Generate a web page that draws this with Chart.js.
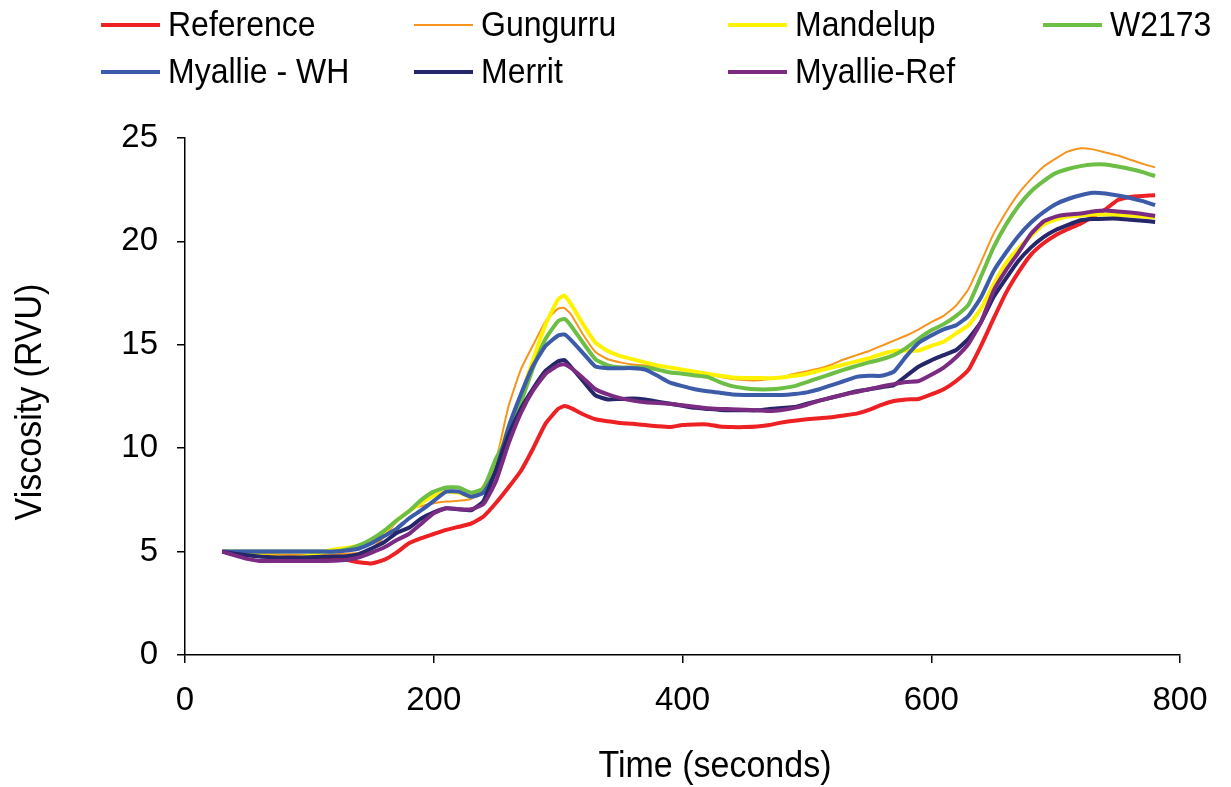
<!DOCTYPE html>
<html>
<head>
<meta charset="utf-8">
<script src="https://cdn.jsdelivr.net/npm/chart.js@4.4.0/dist/chart.umd.min.js"></script>
<style>
  html, body { margin: 0; padding: 0; background: #fff; }
  #wrap { position: relative; width: 1231px; height: 787px; }
</style>
</head>
<body>
<div id="wrap"><canvas id="c"></canvas></div>
<script>
// Sampling times (seconds)
const times = [
  30, 40, 50, 60, 70, 80, 90, 100, 110, 120,
  130, 140, 150, 160, 170, 180, 190, 200, 210, 220,
  230, 240, 250, 260, 270, 280, 290, 300, 305, 310,
  320, 330, 340, 350, 360, 370, 380, 390, 400, 410,
  420, 430, 440, 450, 460, 470, 480, 490, 500, 510,
  520, 530, 540, 550, 560, 570, 580, 590, 600, 610,
  620, 630, 640, 650, 660, 670, 680, 690, 700, 710,
  720, 730, 740, 750, 760, 770, 780
];

// Viscosity (RVU) per variety
const reference = [
  5.0, 4.95, 4.88, 4.84, 4.8, 4.78, 4.75, 4.72, 4.71, 4.68,
  4.6, 4.48, 4.43, 4.6, 4.95, 5.4, 5.65, 5.85, 6.05, 6.2,
  6.35, 6.7, 7.35, 8.1, 8.9, 10.0, 11.2, 11.9, 12.04, 11.95,
  11.64, 11.4, 11.3, 11.22, 11.18, 11.12, 11.06, 11.02, 11.12, 11.15,
  11.15, 11.05, 11.02, 11.02, 11.05, 11.12, 11.25, 11.33, 11.4, 11.45,
  11.5, 11.58, 11.67, 11.85, 12.1, 12.28, 12.36, 12.38, 12.6, 12.85,
  13.25, 13.8, 14.95, 16.25, 17.5, 18.5, 19.35, 19.9, 20.3, 20.6,
  20.86, 21.2, 21.55, 22.0, 22.15, 22.2, 22.23
];
const gungurru = [
  5.0, 4.97, 4.93, 4.9, 4.88, 4.85, 4.84, 4.84, 4.85, 4.87,
  4.9, 4.95, 5.15, 5.7, 6.45, 7.0, 7.2, 7.34, 7.42, 7.46,
  7.55, 8.2, 9.4, 12.0, 13.8, 15.0, 16.15, 16.75, 16.78, 16.5,
  15.5, 14.65, 14.3, 14.15, 14.05, 14.0, 13.95, 13.9, 13.8, 13.7,
  13.6, 13.45, 13.35, 13.3, 13.28, 13.35, 13.45, 13.6, 13.72, 13.85,
  14.05, 14.3, 14.5, 14.7, 14.95, 15.2, 15.45, 15.75, 16.1, 16.4,
  16.9, 17.7, 19.0, 20.35, 21.4, 22.3, 23.0, 23.6, 24.0, 24.35,
  24.5, 24.45, 24.3, 24.15, 23.95, 23.75, 23.58
];
const mandelup = [
  5.0, 4.92, 4.85, 4.8, 4.76, 4.72, 4.71, 4.8, 4.95, 5.1,
  5.18, 5.3, 5.5, 5.95, 6.5, 6.95, 7.35, 7.7, 7.9, 7.85,
  7.65, 7.95, 9.3, 11.0, 12.5, 14.3, 16.0, 17.2, 17.38, 17.0,
  16.0, 15.1, 14.7, 14.45, 14.3, 14.15, 14.0, 13.9, 13.8, 13.7,
  13.6, 13.5, 13.42, 13.4, 13.4, 13.38, 13.42, 13.5, 13.6, 13.75,
  13.9, 14.05, 14.2, 14.35, 14.55, 14.7, 14.72, 14.72, 14.95, 15.15,
  15.55, 15.95, 16.75, 17.9, 18.95, 19.65, 20.25, 20.8, 21.05, 21.2,
  21.25, 21.3, 21.3, 21.28, 21.25, 21.2, 21.15
];
const w2173 = [
  5.0, 5.0, 5.0, 5.0, 5.0, 5.0, 5.0, 5.0, 5.0, 5.0,
  5.1, 5.3, 5.6, 6.0, 6.5, 6.95, 7.5, 7.9, 8.1, 8.1,
  7.85, 8.05, 9.5, 10.6, 12.2, 13.9, 15.3, 16.15, 16.25, 15.95,
  15.1, 14.3, 14.0, 13.9, 13.9, 13.9, 13.8, 13.66, 13.6, 13.52,
  13.45, 13.2, 13.0, 12.9, 12.85, 12.85, 12.9, 13.0, 13.2, 13.4,
  13.6, 13.8, 13.98, 14.15, 14.3, 14.5, 14.85, 15.3, 15.7, 16.0,
  16.4, 16.95, 18.3, 19.7, 20.8, 21.7, 22.4, 22.9, 23.3, 23.5,
  23.64, 23.72, 23.72, 23.62, 23.5, 23.35, 23.16
];
const myallieWH = [
  5.0, 5.0, 5.0, 5.0, 5.0, 5.0, 5.0, 5.0, 5.0, 5.0,
  5.05, 5.15, 5.4, 5.75, 6.1, 6.6, 7.0, 7.45, 7.9, 7.9,
  7.65, 7.85, 8.9, 11.0, 12.6, 14.0, 14.95, 15.45, 15.5, 15.25,
  14.6, 13.95, 13.87, 13.87, 13.87, 13.8, 13.5, 13.17, 13.0, 12.85,
  12.75, 12.68, 12.6, 12.57, 12.57, 12.57, 12.57, 12.62, 12.7, 12.85,
  13.05, 13.25, 13.45, 13.5, 13.5, 13.7, 14.45, 15.1, 15.45, 15.75,
  15.95, 16.4, 17.3, 18.55, 19.45, 20.25, 20.9, 21.4, 21.8, 22.05,
  22.23, 22.35, 22.32, 22.22, 22.1, 21.95, 21.75
];
const merrit = [
  5.0, 4.9, 4.82, 4.76, 4.73, 4.71, 4.71, 4.73, 4.75, 4.76,
  4.78, 4.88, 5.15, 5.45, 5.9, 6.15, 6.6, 6.9, 7.1, 7.05,
  7.0, 7.45, 8.95, 10.6, 11.9, 12.9, 13.75, 14.2, 14.26, 13.95,
  13.25, 12.55, 12.36, 12.38, 12.4, 12.35, 12.25, 12.15, 12.05, 11.95,
  11.9, 11.85, 11.83, 11.83, 11.83, 11.9, 11.95, 11.99, 12.15, 12.3,
  12.45, 12.6, 12.75, 12.85, 12.95, 13.05, 13.5, 13.95, 14.25, 14.5,
  14.75, 15.3, 16.1, 17.3, 18.2, 19.05, 19.7, 20.2, 20.55, 20.8,
  21.02, 21.08, 21.1, 21.1, 21.05, 21.0, 20.94
];
const myallieRef = [
  5.0, 4.82, 4.65, 4.55, 4.55, 4.55, 4.55, 4.55, 4.55, 4.56,
  4.6, 4.72, 4.95, 5.2, 5.55, 5.85, 6.35, 6.85, 7.1, 7.05,
  7.05, 7.3, 8.4, 10.2, 11.7, 12.8, 13.6, 14.0, 14.06, 13.9,
  13.4, 12.85, 12.6, 12.42, 12.3, 12.22, 12.18, 12.15, 12.08, 12.0,
  11.93, 11.9, 11.88, 11.86, 11.84, 11.8, 11.85, 11.95, 12.1, 12.3,
  12.45, 12.6, 12.72, 12.85, 12.98, 13.1, 13.2, 13.25, 13.55, 13.9,
  14.4, 15.05, 16.1, 17.6, 18.6, 19.45, 20.35, 20.95, 21.2, 21.3,
  21.35, 21.45, 21.5, 21.45, 21.4, 21.33, 21.23
];

const seriesNames = ['Reference', 'Gungurru', 'Mandelup', 'W2173', 'Myallie - WH', 'Merrit', 'Myallie-Ref'];
const seriesValues = [reference, gungurru, mandelup, w2173, myallieWH, merrit, myallieRef];
const seriesColors = ['#ED2024', '#F7941D', '#FFF200', '#6DBE45', '#3C5BA8', '#26266A', '#7B2B82'];
const seriesWidths = [4, 2, 4, 4, 4, 4, 4];

const yTicks = [0, 5, 10, 15, 20, 25];
const xTicks = [0, 200, 400, 600, 800];

const FONT = '"Liberation Sans", Arial, Helvetica, sans-serif';

const datasets = seriesNames.map((name, i) => ({
  label: name,
  data: times.map((t, k) => ({ x: t, y: seriesValues[i][k] })),
  borderColor: seriesColors[i],
  backgroundColor: seriesColors[i],
  borderWidth: seriesWidths[i],
  pointRadius: 0,
  tension: 0.15,
  fill: false,
  order: seriesNames.length - i   // later series drawn on top
}));

// Draws text slightly stretched vertically (tall, narrow lettering)
function tallText(ctx, text, x, y, stretch) {
  ctx.save();
  ctx.translate(x, y);
  ctx.scale(1, stretch);
  ctx.fillText(text, 0, 0);
  ctx.restore();
}

// Legend in a fixed 4-column grid plus the two axis titles
const decorations = {
  id: 'decorations',
  afterDraw(chart) {
    const ctx = chart.ctx;
    const colX = [101, 414, 728, 1043];
    const rowY = [25, 72];
    ctx.save();
    chart.data.datasets.forEach((ds, i) => {
      const x = colX[i % 4];
      const y = rowY[Math.floor(i / 4)];
      ctx.strokeStyle = ds.borderColor;
      ctx.lineWidth = ds.borderWidth;
      ctx.lineCap = 'butt';
      ctx.beginPath();
      ctx.moveTo(x, y);
      ctx.lineTo(x + 59, y);
      ctx.stroke();
      ctx.fillStyle = '#000';
      ctx.font = '32px ' + FONT;
      ctx.textAlign = 'left';
      ctx.textBaseline = 'middle';
      tallText(ctx, ds.label, x + 67, y + 1, 1.08);
    });
    ctx.font = '34px ' + FONT;
    ctx.fillStyle = '#000';
    ctx.textAlign = 'center';
    ctx.textBaseline = 'middle';
    tallText(ctx, 'Time (seconds)', 715, 767, 1.06);
    ctx.translate(31, 402);
    ctx.rotate(-Math.PI / 2);
    ctx.scale(1, 1.06);
    ctx.fillText('Viscosity (RVU)', 0, 0);
    ctx.restore();
  }
};

new Chart(document.getElementById('c'), {
  type: 'line',
  data: { datasets },
  plugins: [decorations],
  options: {
    responsive: true,
    maintainAspectRatio: false,
    animation: false,
    layout: { padding: { top: 138, right: 51, left: 0, bottom: 0 } },
    plugins: { legend: { display: false }, tooltip: { enabled: false } },
    scales: {
      x: {
        type: 'linear',
        min: xTicks[0],
        max: xTicks[xTicks.length - 1],
        afterBuildTicks(scale) { scale.ticks = xTicks.map(v => ({ value: v })); },
        afterFit(scale) { scale.height = 132; },
        border: { display: true, color: '#000', width: 1.5 },
        grid: { drawOnChartArea: false, drawTicks: true, tickLength: 8, color: '#000', lineWidth: 1.5 },
        ticks: { color: '#000', font: { family: FONT, size: 33 }, padding: 18, maxRotation: 0 }
      },
      y: {
        type: 'linear',
        min: yTicks[0],
        max: yTicks[yTicks.length - 1],
        afterBuildTicks(scale) { scale.ticks = yTicks.map(v => ({ value: v })); },
        afterFit(scale) { scale.width = 185; },
        border: { display: true, color: '#000', width: 1.5 },
        grid: { drawOnChartArea: false, drawTicks: true, tickLength: 8, color: '#000', lineWidth: 1.5 },
        ticks: { color: '#000', font: { family: FONT, size: 33 }, padding: 19 }
      }
    }
  }
});
</script>
</body>
</html>
